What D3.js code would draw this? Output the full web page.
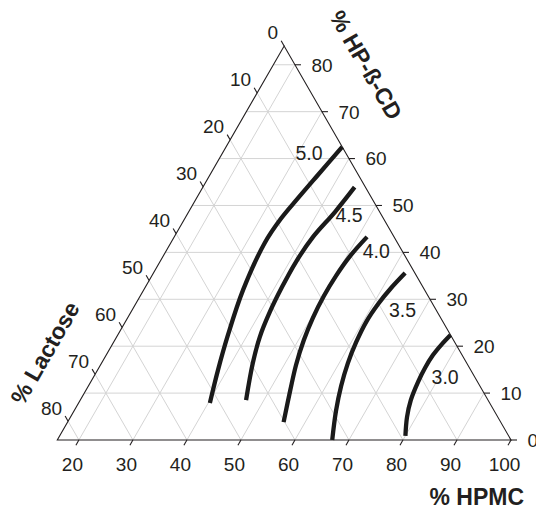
<!DOCTYPE html>
<html>
<head>
<meta charset="utf-8">
<script src="https://cdn.jsdelivr.net/npm/d3@7/dist/d3.min.js"></script>
<style>
  body { margin: 0; background: #fff; }
  svg { display: block; }
  text { font-family: Arial, "Liberation Sans", sans-serif; fill: #231f20; }
</style>
</head>
<body>
<svg id="chart" width="536" height="511"></svg>
<script>
// Composition axes, in percent
const hpmcTicks = [20, 30, 40, 50, 60, 70, 80, 90, 100];
const cdTicks = [0, 10, 20, 30, 40, 50, 60, 70, 80];
const lactoseTicks = [0, 10, 20, 30, 40, 50, 60, 70, 80];
const hpmcMin = 16; // the plotted region starts at 16 % HPMC

// Response contour levels
const levels = [5.0, 4.5, 4.0, 3.5, 3.0];

// Contour paths as [% HPMC, % HP-ß-CD] (lactose is the remainder)
const contour50 = [[37.5, 62.5], [36.0, 56.5], [34.8, 51.6], [33.8, 47.1], [33.4, 42.0], [34.4, 32.0], [36.4, 22.4], [38.3, 14.9], [40.3, 7.9]];
const contour45 = [[44.1, 53.9], [43.1, 48.6], [41.7, 43.3], [41.2, 38.0], [41.3, 32.6], [41.7, 27.3], [42.5, 22.0], [44.0, 16.4], [46.7, 8.5]];
const contour40 = [[51.7, 43.3], [50.6, 39.2], [50.1, 35.0], [50.0, 30.7], [50.3, 26.0], [51.0, 21.3], [52.2, 16.0], [53.8, 10.7], [56.0, 3.8]];
const contour35 = [[62.6, 35.6], [61.6, 32.4], [60.9, 29.0], [60.6, 25.2], [60.9, 20.9], [61.6, 16.4], [62.8, 11.5], [64.5, 6.2], [66.9, 0.0]];
const contour30 = [[77.6, 22.4], [77.0, 20.5], [76.5, 18.1], [76.4, 15.4], [76.6, 12.4], [77.2, 8.5], [78.3, 4.9], [80.0, 0.9]];

// Where each level's value is written, as [% HPMC, % HP-ß-CD]
const labelSpots = [[32.0, 61.2], [46.0, 48.0], [54.9, 40.3], [66.0, 27.8], [81.1, 13.4]];

const contours = [contour50, contour45, contour40, contour35, contour30];

const svg = d3.select("#chart");

const span = 100 - hpmcMin;
const x = d3.scaleLinear().domain([hpmcMin, 100]).range([57.3, 511]);
const y = d3.scaleLinear().domain([0, span]).range([440, 46]);

// Map a composition (HPMC, HP-ß-CD) to the page
function pt(h, c) {
  return [x(h) + (x(hpmcMin + c) - x(hpmcMin)) / 2, y(c)];
}

const gridColor = "#d4d4d4";
const grid = svg.append("g").attr("stroke", gridColor).attr("stroke-width", 1).attr("fill", "none");

function seg(g, a, b) {
  g.append("line").attr("x1", a[0]).attr("y1", a[1]).attr("x2", b[0]).attr("y2", b[1]);
}

// constant HP-ß-CD
cdTicks.filter(c => c > 0).forEach(c => seg(grid, pt(hpmcMin, c), pt(100 - c, c)));
// constant HPMC
hpmcTicks.filter(h => h < 100).forEach(h => seg(grid, pt(h, 0), pt(h, 100 - h)));
// constant lactose
lactoseTicks.filter(l => l > 0).forEach(l => seg(grid, pt(hpmcMin, span - l), pt(100 - l, 0)));

// Triangle outline
const frame = svg.append("g").attr("stroke", "#231f20").attr("stroke-width", 1.1).attr("fill", "none");
frame.append("path")
  .attr("d", d3.line()([pt(hpmcMin, 0), pt(100, 0), pt(hpmcMin, span)]) + "Z")
  .attr("stroke-linejoin", "miter");

const tickLen = 6;
const fs = 19;

// HPMC axis (bottom)
hpmcTicks.forEach(h => {
  const p = pt(h, 0);
  seg(frame, p, [p[0] - 0.5 * tickLen, p[1] + 0.866 * tickLen]);
  svg.append("text").attr("x", p[0] - 6.5).attr("y", 471)
    .attr("text-anchor", "middle").attr("font-size", fs).text(h);
});

// HP-ß-CD axis (right)
cdTicks.forEach(c => {
  const p = pt(100 - c, c);
  seg(frame, p, [p[0] + tickLen, p[1]]);
  svg.append("text").attr("x", p[0] + 16.5).attr("y", p[1]).attr("dy", "0.36em")
    .attr("text-anchor", "start").attr("font-size", fs).text(c);
});

// Lactose axis (left)
lactoseTicks.forEach(l => {
  const p = pt(hpmcMin, span - l);
  seg(frame, p, [p[0] - 0.5 * tickLen, p[1] - 0.866 * tickLen]);
  svg.append("text").attr("x", p[0] - 6).attr("y", p[1] - 13.5).attr("dy", "0.36em")
    .attr("text-anchor", "end").attr("font-size", fs).text(l);
});

// Axis titles
svg.append("text").attr("x", 524).attr("y", 505).attr("text-anchor", "end")
  .attr("font-size", 23).attr("font-weight", "bold").text("% HPMC");
svg.append("text").attr("transform", "translate(45,353) rotate(-60)").attr("dy", "0.35em")
  .attr("text-anchor", "middle").attr("font-size", 23).attr("font-weight", "bold").text("% Lactose");
svg.append("text").attr("transform", "translate(366,65) rotate(60)").attr("dy", "0.35em")
  .attr("text-anchor", "middle").attr("font-size", 23).attr("font-weight", "bold").text("% HP-ß-CD");

// Contours
const line = d3.line().curve(d3.curveCatmullRom.alpha(0.5));
svg.append("g").selectAll("path").data(contours).join("path")
  .attr("d", d => line(d.map(([h, c]) => pt(h, c))))
  .attr("fill", "none").attr("stroke", "#1a1a1a").attr("stroke-width", 4.3)
  .attr("stroke-linecap", "butt").attr("stroke-linejoin", "round");

svg.append("g").selectAll("text").data(levels).join("text")
  .attr("x", (d, i) => pt(...labelSpots[i])[0])
  .attr("y", (d, i) => pt(...labelSpots[i])[1])
  .attr("dy", "0.36em").attr("text-anchor", "middle").attr("font-size", 19.5)
  .text(d => d.toFixed(1));
</script>
</body>
</html>
